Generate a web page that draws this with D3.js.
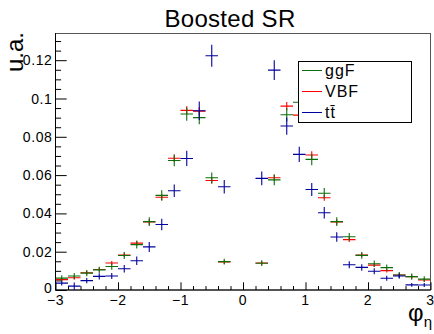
<!DOCTYPE html>
<html><head><meta charset="utf-8">
<script src="https://cdn.jsdelivr.net/npm/d3@7"></script>
<style>
body{margin:0;background:#fff}
svg{display:block}
text{font-family:"Liberation Sans",Arial,Helvetica,sans-serif;fill:#000}
</style>
</head><body>
<svg id="c" width="434" height="334"></svg>
<script>
// ---- data ----
const binCenters = [-2.9,-2.7,-2.5,-2.3,-2.1,-1.9,-1.7,-1.5,-1.3,-1.1,-0.9,-0.7,-0.5,-0.3,-0.1,
                     0.1, 0.3, 0.5, 0.7, 0.9, 1.1, 1.3, 1.5, 1.7, 1.9, 2.1, 2.3, 2.5, 2.7, 2.9];
const binHalfWidth = 0.1;
const ggF = [0.0062,0.0073,0.0088,0.0105,0.0123,0.0180,0.0237,0.0357,0.0494,0.0676,0.0919,0.0900,0.0586,0.0148,null,
             null,0.0140,0.0575,0.0915,0.0980,0.0682,0.0505,0.0357,0.0278,0.0181,0.0137,0.0117,0.0078,0.0070,0.0057];
const ggFErr = [0.0015,0.0016,0.0016,0.0016,0.0017,0.0018,0.0020,0.0023,0.0027,0.0030,0.0035,0.0035,0.0028,0.0015,null,
                null,0.0015,0.0028,0.0035,0.0036,0.0030,0.0027,0.0023,0.0020,0.0018,0.0017,0.0016,0.0016,0.0016,0.0015];
const VBF = [0.0054,0.0064,0.0090,0.0107,0.0141,0.0183,0.0245,0.0355,0.0484,0.0688,0.0938,0.0934,0.0572,0.0146,null,
             null,0.0141,0.0586,0.0960,0.0913,0.0705,0.0482,0.0355,0.0263,0.0183,0.0130,0.0101,0.0078,0.0070,0.0052];
const VBFErr = [0.0009,0.0010,0.0010,0.0010,0.0010,0.0011,0.0012,0.0014,0.0016,0.0019,0.0022,0.0022,0.0017,0.0009,null,
                null,0.0009,0.0017,0.0022,0.0022,0.0019,0.0016,0.0014,0.0012,0.0011,0.0010,0.0010,0.0010,0.0010,0.0009];
const ttbar = [0.0036,0.0020,0.0049,0.0071,0.0073,0.0111,0.0153,0.0225,0.0342,0.0518,0.0687,0.0936,0.1223,0.0539,null,
               null,0.0583,0.1148,0.0856,0.0708,0.0525,0.0403,0.0277,0.0132,0.0118,0.0098,0.0061,0.0073,0.0027,0.0026];
const ttbarErr = [0.0012,0.0019,0.0014,0.0016,0.0016,0.0019,0.0022,0.0026,0.0030,0.0033,0.0040,0.0048,0.0057,0.0035,null,
                  null,0.0036,0.0052,0.0045,0.0040,0.0034,0.0030,0.0025,0.0018,0.0017,0.0016,0.0013,0.0013,0.0010,0.0010];
const seriesNames = ["ggF","VBF","tt\u0304"];
const xTickValues = [-3,-2,-1,0,1,2,3];
const xTickLabels = ["\u22123","\u22122","\u22121","0","1","2","3"];
const yTickValues = [0,0.02,0.04,0.06,0.08,0.1,0.12];
const yTickLabels = ["0","0.02","0.04","0.06","0.08","0.1","0.12"];
const title = "Boosted SR";
const yTitle = "u.a.";

// ---- layout ----
const L = 55.5, R = 430.5, T = 33, B = 290;
const svg = d3.select("#c");
const x = d3.scaleLinear().domain([-3,3]).range([L,R]);
const y = d3.scaleLinear().domain([0,0.1342]).range([B,T]);

const colors = {ggF:"#0b6e0b", VBF:"#ff0000", ttbar:"#00009c"};

// frame
svg.append("rect").attr("x",L).attr("y",T+0.5).attr("width",R-L).attr("height",B-T-0.5)
  .attr("fill","none").attr("stroke","#555").attr("stroke-width",1);

// minor ticks
const yMinor = d3.range(0,0.1341,0.005).filter(v=>Math.abs(v/0.02-Math.round(v/0.02))>1e-6);
const xMinor = d3.range(-3,3.001,0.2).filter(v=>Math.abs(v-Math.round(v))>1e-6);
svg.append("g").attr("transform",`translate(${L},0)`)
  .call(d3.axisRight(y).tickValues(yMinor).tickSize(5.6).tickFormat(""));
svg.append("g").attr("transform",`translate(${L},0)`)
  .call(d3.axisRight(y).tickValues(yTickValues).tickSize(11.2).tickFormat(""));
svg.append("g").attr("transform",`translate(0,${B})`)
  .call(d3.axisTop(x).tickValues(xMinor).tickSize(3.9).tickFormat(""));
svg.append("g").attr("transform",`translate(0,${B})`)
  .call(d3.axisTop(x).tickValues(xTickValues).tickSize(7.7).tickFormat(""));
svg.selectAll(".domain").remove();
svg.selectAll(".tick line").attr("stroke","#000").attr("stroke-width",1);

// axis lines
svg.append("line").attr("x1",L).attr("x2",L).attr("y1",T).attr("y2",B).attr("stroke","#000");
svg.append("line").attr("x1",L).attr("x2",R).attr("y1",B).attr("y2",B).attr("stroke","#000");

// tick labels
svg.append("g").selectAll("text").data(yTickValues).join("text")
  .attr("x",L-3).attr("y",d=>y(d)).attr("dy",d=>d===0?"0.2em":"0.36em")
  .attr("text-anchor","end").style("font-size","14px").style("letter-spacing","0.6px")
  .text((d,i)=>yTickLabels[i]);
svg.append("g").selectAll("text").data(xTickValues).join("text")
  .attr("x",d=>x(d)).attr("y",B+15)
  .attr("text-anchor","middle").style("font-size","14px").style("letter-spacing","0.6px")
  .text((d,i)=>xTickLabels[i]);

// titles
svg.append("text").attr("x",230).attr("y",27).attr("text-anchor","middle")
  .style("font-size","24px").style("letter-spacing","0.3px").text(title);
svg.append("text").attr("transform",`translate(23,${T-1}) rotate(-90)`).attr("text-anchor","end")
  .style("font-size","24px").text(yTitle);
const xt = svg.append("text").attr("x",432).attr("y",321).attr("text-anchor","end").style("font-size","24px");
xt.append("tspan").text("\u03c6");
xt.append("tspan").attr("dy",6).style("font-size","15px").text("\u03b7");

// data points
const clipId = "plotclip";
svg.append("clipPath").attr("id",clipId).append("rect").attr("x",L).attr("y",T).attr("width",R-L).attr("height",B-T);
function drawSeries(vals, errs, color){
  const pts = binCenters.map((c,i)=>({c, v:vals[i], e:errs[i]})).filter(d=>d.v!==null);
  const g = svg.append("g").attr("clip-path",`url(#${clipId})`).attr("stroke",color).attr("stroke-width",1.1);
  g.selectAll("line.h").data(pts).join("line").attr("class","h")
    .attr("x1",d=>x(d.c-binHalfWidth)).attr("x2",d=>x(d.c+binHalfWidth))
    .attr("y1",d=>y(d.v)).attr("y2",d=>y(d.v));
  g.selectAll("line.v").data(pts).join("line").attr("class","v")
    .attr("x1",d=>x(d.c)).attr("x2",d=>x(d.c))
    .attr("y1",d=>y(Math.max(0,d.v-d.e))).attr("y2",d=>y(d.v+d.e));
}
drawSeries(VBF, VBFErr, colors.VBF);
drawSeries(ggF, ggFErr, colors.ggF);
drawSeries(ttbar, ttbarErr, colors.ttbar);

// legend
const lg = svg.append("g");
lg.append("rect").attr("x",298.5).attr("y",61.5).attr("width",113).attr("height",61)
  .attr("fill","#fff").attr("stroke","#000").attr("stroke-width",1);
const legendItems = [{n:seriesNames[0],c:colors.ggF},{n:seriesNames[1],c:colors.VBF},{n:seriesNames[2],c:colors.ttbar}];
legendItems.forEach((it,i)=>{
  const yy = 70.5 + i*21;
  lg.append("line").attr("x1",302).attr("x2",322).attr("y1",yy).attr("y2",yy).attr("stroke",it.c).attr("stroke-width",1);
  lg.append("text").attr("x",325).attr("y",yy).attr("dy","0.36em").style("font-size","16px")
    .style("letter-spacing","1px").text(it.n);
});
</script>
</body></html>
